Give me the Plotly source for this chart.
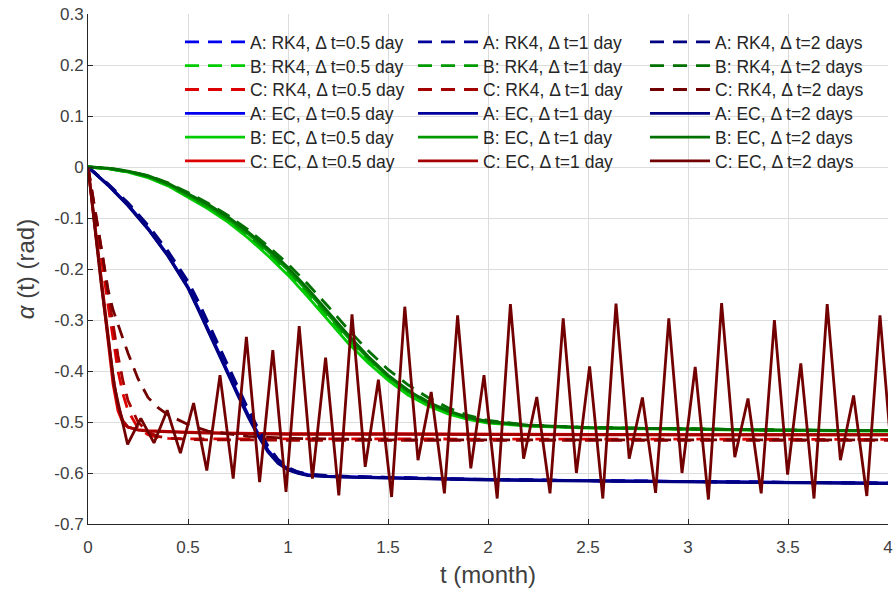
import plotly.graph_objects as go

# ---------------- data ----------------
# time grids (months)
t_A = [0, 0.1, 0.2, 0.3, 0.4, 0.5, 0.55, 0.6, 0.65, 0.7, 0.75, 0.8, 0.85, 0.9, 0.95,
       1.0, 1.05, 1.1, 1.2, 1.4, 1.7, 2.0, 2.5, 3.0, 3.5, 4.0]
t_B = [0, 0.1, 0.2, 0.3, 0.4, 0.5, 0.6, 0.7, 0.8, 0.9, 1.0, 1.1, 1.2, 1.3, 1.4, 1.5,
       1.6, 1.7, 1.8, 1.9, 2.0, 2.2, 2.5, 3.0, 3.5, 4.0]
t_C = [0, 0.025, 0.05, 0.075, 0.1, 0.125, 0.15, 0.175, 0.2, 0.25, 0.3, 0.35, 0.4,
       0.5, 0.6, 0.8, 1.0, 1.5, 2.0, 2.5, 3.0, 3.5, 4.0]
t_2day = [0, 0.066, 0.132, 0.198, 0.264, 0.33, 0.396, 0.462, 0.528, 0.594, 0.66, 0.726,
          0.792, 0.858, 0.924, 0.99, 1.056, 1.122, 1.188, 1.254, 1.32, 1.386, 1.452,
          1.518, 1.584, 1.65, 1.716, 1.782, 1.848, 1.914, 1.98, 2.046, 2.112, 2.178,
          2.244, 2.31, 2.376, 2.442, 2.508, 2.574, 2.64, 2.706, 2.772, 2.838, 2.904,
          2.97, 3.036, 3.102, 3.168, 3.234, 3.3, 3.366, 3.432, 3.498, 3.564, 3.63,
          3.696, 3.762, 3.828, 3.894, 3.96, 4.026]

# A series
A_RK4_05 = [0, -0.034, -0.073, -0.118, -0.171, -0.232, -0.272, -0.315, -0.357, -0.399, -0.442,
            -0.482, -0.519, -0.553, -0.577, -0.591, -0.599, -0.603, -0.606, -0.608, -0.611,
            -0.613, -0.615, -0.617, -0.619, -0.620]
A_RK4_1 = [0, -0.034, -0.072, -0.117, -0.169, -0.229, -0.269, -0.311, -0.353, -0.395, -0.438,
           -0.479, -0.516, -0.551, -0.576, -0.590, -0.598, -0.603, -0.606, -0.608, -0.611,
           -0.613, -0.615, -0.617, -0.619, -0.620]
A_RK4_2 = [0, -0.033, -0.070, -0.114, -0.165, -0.224, -0.262, -0.304, -0.345, -0.388, -0.432,
           -0.474, -0.512, -0.547, -0.573, -0.589, -0.598, -0.602, -0.605, -0.608, -0.611,
           -0.613, -0.615, -0.617, -0.619, -0.620]
A_EC_05 = [0, -0.035, -0.074, -0.120, -0.173, -0.235, -0.275, -0.318, -0.360, -0.402, -0.445,
           -0.485, -0.522, -0.555, -0.578, -0.592, -0.599, -0.603, -0.606, -0.608, -0.611,
           -0.613, -0.615, -0.617, -0.619, -0.620]
A_EC_1 = [0, -0.035, -0.075, -0.121, -0.174, -0.236, -0.277, -0.320, -0.362, -0.404, -0.447,
          -0.487, -0.524, -0.557, -0.579, -0.593, -0.600, -0.604, -0.607, -0.609, -0.611,
          -0.613, -0.615, -0.617, -0.619, -0.620]
A_EC_2 = [0, -0.036, -0.076, -0.122, -0.175, -0.238, -0.279, -0.322, -0.364, -0.407, -0.449,
          -0.490, -0.527, -0.559, -0.581, -0.594, -0.601, -0.605, -0.607, -0.609, -0.612,
          -0.614, -0.616, -0.618, -0.619, -0.621]

# B series
B_RK4_05 = [0, -0.003, -0.010, -0.020, -0.036, -0.058, -0.080, -0.106, -0.136, -0.170, -0.207,
            -0.250, -0.295, -0.340, -0.380, -0.413, -0.440, -0.462, -0.479, -0.492, -0.500,
            -0.507, -0.511, -0.514, -0.516, -0.517]
B_RK4_1 = [0, -0.003, -0.009, -0.019, -0.035, -0.056, -0.078, -0.103, -0.133, -0.166, -0.203,
           -0.245, -0.290, -0.335, -0.375, -0.409, -0.437, -0.460, -0.477, -0.491, -0.499,
           -0.507, -0.511, -0.514, -0.516, -0.517]
B_RK4_2 = [0, -0.002, -0.008, -0.017, -0.031, -0.050, -0.071, -0.095, -0.123, -0.155, -0.190,
           -0.230, -0.273, -0.318, -0.360, -0.397, -0.427, -0.452, -0.472, -0.487, -0.497,
           -0.506, -0.511, -0.514, -0.516, -0.517]
B_EC_05 = [0, -0.003, -0.010, -0.021, -0.037, -0.059, -0.082, -0.108, -0.139, -0.174, -0.212,
           -0.255, -0.300, -0.345, -0.384, -0.418, -0.447, -0.468, -0.484, -0.495, -0.502,
           -0.508, -0.512, -0.515, -0.517, -0.518]
B_EC_1 = [0, -0.003, -0.009, -0.019, -0.034, -0.055, -0.077, -0.102, -0.131, -0.165, -0.202,
          -0.244, -0.289, -0.334, -0.375, -0.411, -0.441, -0.463, -0.480, -0.492, -0.500,
          -0.507, -0.511, -0.514, -0.516, -0.517]
B_EC_2 = [0, -0.002, -0.008, -0.017, -0.032, -0.052, -0.073, -0.098, -0.127, -0.160, -0.197,
          -0.239, -0.284, -0.329, -0.371, -0.408, -0.438, -0.461, -0.478, -0.491, -0.499,
          -0.506, -0.511, -0.514, -0.516, -0.517]

# C series
C_RK4_05 = [0, -0.065, -0.130, -0.200, -0.270, -0.340, -0.400, -0.445, -0.478, -0.512, -0.525,
            -0.530, -0.532, -0.533, -0.533, -0.533, -0.534, -0.534, -0.534, -0.534, -0.534,
            -0.534, -0.534]
C_RK4_1 = [0, -0.058, -0.118, -0.180, -0.245, -0.310, -0.370, -0.420, -0.458, -0.500, -0.520,
           -0.528, -0.532, -0.534, -0.535, -0.535, -0.536, -0.536, -0.536, -0.536, -0.536,
           -0.536, -0.536]
C_RK4_2 = [0, -0.060, -0.120, -0.180, -0.240, -0.280, -0.310, -0.337, -0.365, -0.415, -0.452,
           -0.472, -0.486, -0.505, -0.518, -0.528, -0.532, -0.535, -0.535, -0.535, -0.535,
           -0.535, -0.535]
C_EC_05 = [0, -0.085, -0.170, -0.255, -0.345, -0.425, -0.478, -0.502, -0.510, -0.515, -0.517,
           -0.518, -0.519, -0.520, -0.521, -0.522, -0.523, -0.523, -0.524, -0.524, -0.525,
           -0.525, -0.525]
C_EC_1 = [0, -0.080, -0.160, -0.245, -0.330, -0.410, -0.468, -0.498, -0.510, -0.516, -0.518,
          -0.519, -0.520, -0.521, -0.522, -0.523, -0.524, -0.524, -0.525, -0.525, -0.525,
          -0.525, -0.525]
C_EC_2 = [0, -0.230, -0.430, -0.544, -0.493, -0.541, -0.477, -0.561, -0.463, -0.595, -0.408,
          -0.611, -0.333, -0.618, -0.359, -0.637, -0.312, -0.611, -0.374, -0.644, -0.289,
          -0.588, -0.417, -0.647, -0.274, -0.575, -0.441, -0.640, -0.291, -0.591, -0.408,
          -0.650, -0.269, -0.572, -0.451, -0.640, -0.297, -0.600, -0.391, -0.650, -0.268,
          -0.572, -0.452, -0.639, -0.297, -0.600, -0.392, -0.652, -0.267, -0.569, -0.454,
          -0.640, -0.300, -0.603, -0.385, -0.650, -0.269, -0.575, -0.448, -0.645, -0.291,
          -0.600]

x_tick_vals = [0, 0.5, 1, 1.5, 2, 2.5, 3, 3.5, 4]
x_tick_text = ["0", "0.5", "1", "1.5", "2", "2.5", "3", "3.5", "4"]
y_tick_vals = [0.3, 0.2, 0.1, 0, -0.1, -0.2, -0.3, -0.4, -0.5, -0.6, -0.7]
y_tick_text = ["0.3", "0.2", "0.1", "0", "-0.1", "-0.2", "-0.3", "-0.4", "-0.5", "-0.6", "-0.7"]

# ---------------- styling ----------------
colors = {
    ("A", "0.5"): "#0000F0", ("A", "1"): "#00009A", ("A", "2"): "#000080",
    ("B", "0.5"): "#00CC00", ("B", "1"): "#009A00", ("B", "2"): "#007000",
    ("C", "0.5"): "#DD0000", ("C", "1"): "#A50000", ("C", "2"): "#730000",
}
FONT = "Liberation Sans, Arial, sans-serif"
LW = 2.8
DASH = "14px,9px"

W, H = 895, 599
# plot area on the page: left 88, right 888, top 14, bottom 524
PL, PW, PT, PH = 88, 800, 14, 510


def px_x(px):
    return (px - PL) / PW


def px_y(py):
    return 1 - (py - PT) / PH


# legend layout (page pixels): three columns of six rows
LEG_COL_X = [180, 413, 645]
LEG_ROW0, LEG_PITCH = 42, 23.8

groups = [
    ("0.5", "0.5 day", [
        ("A", "RK4", t_A, A_RK4_05), ("B", "RK4", t_B, B_RK4_05), ("C", "RK4", t_C, C_RK4_05),
        ("A", "EC", t_A, A_EC_05), ("B", "EC", t_B, B_EC_05), ("C", "EC", t_C, C_EC_05)]),
    ("1", "1 day", [
        ("A", "RK4", t_A, A_RK4_1), ("B", "RK4", t_B, B_RK4_1), ("C", "RK4", t_C, C_RK4_1),
        ("A", "EC", t_A, A_EC_1), ("B", "EC", t_B, B_EC_1), ("C", "EC", t_C, C_EC_1)]),
    ("2", "2 days", [
        ("A", "RK4", t_A, A_RK4_2), ("B", "RK4", t_B, B_RK4_2), ("C", "RK4", t_C, C_RK4_2),
        ("A", "EC", t_A, A_EC_2), ("B", "EC", t_B, B_EC_2), ("C", "EC", t_2day, C_EC_2)]),
]

fig = go.Figure()
legends = {}
k = 0
for col, (key, lab, items) in enumerate(groups):
    for row, (case, method, tx, vals) in enumerate(items):
        leg_id = "legend" if k == 0 else f"legend{k + 1}"
        fig.add_trace(go.Scatter(
            x=tx, y=vals, mode="lines",
            name=f"{case}: {method}, Δ t={lab}",
            line=dict(color=colors[(case, key)], width=LW,
                      dash=DASH if method == "RK4" else "solid"),
            legend=leg_id,
        ))
        legends[leg_id] = dict(
            x=px_x(LEG_COL_X[col]), y=px_y(LEG_ROW0 + row * LEG_PITCH),
            xanchor="left", yanchor="middle",
            font=dict(family=FONT, size=17.5, color="#262626"),
            bgcolor="rgba(0,0,0,0)", borderwidth=0, itemwidth=60,
        )
        k += 1

fig.update_layout(
    width=W, height=H,
    margin=dict(l=PL, r=W - PL - PW, t=PT, b=H - PT - PH, autoexpand=False),
    paper_bgcolor="white", plot_bgcolor="white",
    font=dict(family=FONT, size=17, color="#404040"),
    showlegend=True,
    xaxis=dict(
        range=[0, 4], tickvals=x_tick_vals, ticktext=x_tick_text,
        showgrid=True, gridcolor="#DCDCDC", gridwidth=1, zeroline=False,
        showline=True, linecolor="#262626", linewidth=1,
        ticks="inside", ticklen=5, tickcolor="#262626", ticklabelstandoff=8,
        ticklabeloverflow="allow",
        tickfont=dict(family=FONT, size=17, color="#404040"),
        title=dict(text="t (month)", font=dict(family=FONT, size=24, color="#404040"),
                   standoff=9),
    ),
    yaxis=dict(
        range=[-0.7, 0.3], tickvals=y_tick_vals, ticktext=y_tick_text,
        showgrid=True, gridcolor="#DCDCDC", gridwidth=1, zeroline=False,
        showline=True, linecolor="#262626", linewidth=1,
        ticks="inside", ticklen=5, tickcolor="#262626", ticklabelstandoff=0,
        ticklabeloverflow="allow",
        tickfont=dict(family=FONT, size=17, color="#404040"),
        title=dict(text="<i>α</i> (t) (rad)", font=dict(family=FONT, size=24, color="#404040"),
                   standoff=12),
    ),
    **legends,
)

# remove the browser's default 8px body margin so the figure sits at the page origin
fig.write_html("out.html", config={"displayModeBar": False},
               post_script="document.body.style.margin='0px';")
